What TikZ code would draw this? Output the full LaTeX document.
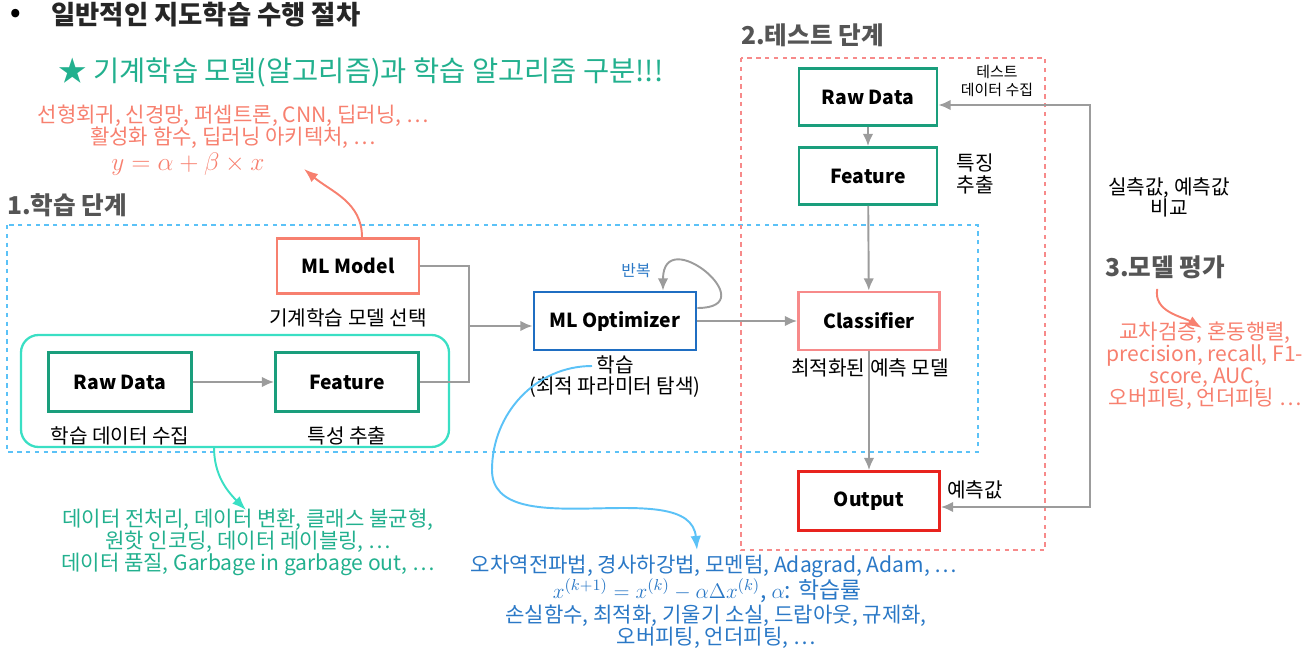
\documentclass[tikz,border=0pt]{standalone}
\usepackage{fontspec}
\setmainfont{Noto Sans CJK KR}
\usepackage{amsmath}
\usepackage{xcolor}
\usetikzlibrary{arrows.meta,positioning}
\definecolor{tealBox}{HTML}{1A9E7C}
\definecolor{aquaFrame}{HTML}{3ADFC4}
\definecolor{salmonRed}{HTML}{F7806F}
\definecolor{brightRed}{HTML}{E8231E}
\definecolor{paleRed}{HTML}{F78A8A}
\definecolor{optBlue}{HTML}{1F6EC2}
\definecolor{skyBlue}{HTML}{5BC2F7}
\definecolor{noteBlue}{HTML}{2A78C6}
\definecolor{noteTeal}{HTML}{22B08E}
\definecolor{headGray}{HTML}{555555}
\definecolor{lineGray}{HTML}{9C9C9C}
\newcommand{\tightlines}{\lineskiplimit=-20pt\relax}

\tikzset{
	box/.style={draw, line width=1.6pt, fill=white, inner sep=0pt, font=\fontsize{11}{13}\selectfont\bfseries},
	lbl/.style={inner sep=0pt, align=center, font={\fontsize{11.5}{13}\selectfont\tightlines}},
	note/.style={inner sep=0pt, align=center, font={\fontsize{12}{12.5}\selectfont\tightlines}},
	stage/.style={inner sep=0pt, anchor=west, text=headGray, font=\fontsize{14}{16}\selectfont\bfseries},
	flow/.style={-{Latex[length=7pt,width=6pt]}, draw=lineGray, line width=1.1pt},
	hint/.style={-{Latex[length=8pt,width=6pt]}, line width=1.1pt},
	frameLine/.style={line width=1.3pt, dash pattern=on 2.5pt off 2.5pt},
}

\begin{document}
\begin{tikzpicture}[x=0.02cm, y=-0.02cm]
	\useasboundingbox (0,0) rectangle (1307,648);
	
	% 제목
	\node[inner sep=0pt, font=\fontsize{15}{17}\selectfont\bfseries] (dot) at (16,15) {•};
	\node[inner sep=0pt, anchor=west, text=black!85, font=\fontsize{15}{17}\selectfont\bfseries] (title) at (51,15) {일반적인 지도학습 수행 절차};
	\node[inner sep=0pt, text=noteTeal, font=\fontsize{16.2}{18}\selectfont] (remark) at (361,72) {★ 기계학습 모델(알고리즘)과 학습 알고리즘 구분!!!};
	
	% 영역
	\draw[frameLine, skyBlue] (7,225) rectangle (978,452);
	\draw[frameLine, paleRed] (741,58) rectangle (1045,550);
	\draw[aquaFrame, line width=1.3pt, rounded corners=10pt] (21,335) rectangle (449,447);
	\coordinate (aquaBottom) at (214,447);
	
	\node[stage] (stageA) at (7,205) {1.학습 단계};
	\node[stage] (stageB) at (741,35) {2.테스트 단계};
	\node[stage] (stageC) at (1105,267) {3.모델 평가};
	
	% 학습 단계
	\node[box, draw=tealBox, minimum width=2.86cm, minimum height=1.18cm] (rawA) at (120,382) {Raw Data};
	\node[box, draw=tealBox, minimum width=2.86cm, minimum height=1.18cm] (featA) at (347,382) {Feature};
	\node[box, draw=salmonRed, minimum width=2.84cm, minimum height=1.1cm] (model) at (348,266) {ML Model};
	\node[box, draw=optBlue, minimum width=3.24cm, minimum height=1.16cm] (opt) at (615,321) {ML Optimizer};
	
	\node[lbl, below=0.26cm of rawA] (rawALbl) {학습 데이터 수집};
	\node[lbl, below=0.26cm of featA] (featALbl) {특성 추출};
	\node[lbl, below=0.26cm of model] (modelLbl) {기계학습 모델 선택};
	\node[lbl, font={\fontsize{11.5}{12}\selectfont\tightlines}] (optLbl) at (615,377) {학습\\(최적 파라미터 탐색)};
	\node[lbl, text=noteBlue, font=\fontsize{9}{10}\selectfont] (repeatLbl) at (636,271) {반복};
	
	\coordinate (join) at (469,326);
	\draw[flow] (rawA) -- (featA);
	\draw[flow] (model.east) -| (join) -- (opt.west |- join);
	\draw[draw=lineGray, line width=1.1pt] (featA.east) -| (join);
	\draw[flow] ([yshift=0.26cm]opt.east) to[out=0, in=90, looseness=4.6] ([xshift=0.96cm]opt.north);
	
	% 테스트 단계
	\node[box, draw=tealBox, minimum width=2.76cm, minimum height=1.14cm] (rawT) at (868,97) {Raw Data};
	\node[box, draw=tealBox, minimum width=2.76cm, minimum height=1.14cm] (featT) at (868,176) {Feature};
	\node[box, draw=paleRed, minimum width=2.82cm, minimum height=1.16cm] (clf) at (869,321) {Classifier};
	\node[box, draw=brightRed, minimum width=2.82cm, minimum height=1.18cm] (out) at (869,501) {Output};
	
	\node[lbl, font={\fontsize{8.5}{10.2}\selectfont\tightlines}] (rawTLbl) at (997,81) {테스트\\데이터 수집};
	\node[lbl, font={\fontsize{11.5}{12.5}\selectfont\tightlines}] (featTLbl) at (975,174) {특징\\추출};
	\node[lbl] (clfLbl) at (870,368) {최적화된 예측 모델};
	\node[lbl] (outLbl) at (975,490) {예측값};
	\node[lbl, font={\fontsize{11.5}{12}\selectfont\tightlines}] (cmpLbl) at (1169,197) {실측값, 예측값\\비교};
	
	\draw[flow] (opt) -- (clf);
	\draw[flow] (rawT) -- (featT);
	\draw[flow] (featT) -- (clf);
	\draw[flow] (clf) -- (out);
	
	\coordinate (backTop) at (1090,105);
	\coordinate (backBot) at (1090,507);
	\draw[flow, {Latex[length=7pt,width=6pt]}-{Latex[length=7pt,width=6pt]}] (rawT.east |- backTop) -- (backTop) -- (backBot) -- (out.east |- backBot);
	
	% 설명
	\node[note, text=salmonRed] (modelNote) at (233,127) {선형회귀, 신경망, 퍼셉트론, CNN, 딥러닝, …\\활성화 함수, 딥러닝 아키텍처, …};
	\node[inner sep=0pt, text=salmonRed, font=\fontsize{14}{16}\selectfont] (modelEq) at (188,164) {$y=\alpha+\beta\times x$};
	\coordinate (modelTip) at (304,169);
	\draw[hint, salmonRed] ([xshift=0.28cm]model.north) to[out=90, in=-40] (modelTip);
	
	\node[note, text=noteTeal] (dataNote) at (248,542) {데이터 전처리, 데이터 변환, 클래스 불균형,\\원핫 인코딩, 데이터 레이블링, …\\데이터 품질, Garbage in garbage out, …};
	\coordinate (dataTip) at (246,510);
	\draw[hint, aquaFrame] (aquaBottom) to[out=-90, in=135] (dataTip);
	
	\node[note, text=noteBlue] (optNote) at (714,566) {오차역전파법, 경사하강법, 모멘텀, Adagrad, Adam, …};
	\node[inner sep=0pt, text=noteBlue, font=\fontsize{13}{15}\selectfont] (optEq) at (707,591) {$x^{(k+1)}=x^{(k)}-\alpha\Delta x^{(k)}$, $\alpha$: 학습률};
	\node[note, text=noteBlue] (optNote2) at (716,627) {손실함수, 최적화, 기울기 소실, 드랍아웃, 규제화,\\오버피팅, 언더피팅, …};
	\coordinate (optStart) at (592,366);
	\coordinate (optBend) at (492,470);
	\coordinate (optTip) at (697,550);
	\draw[hint, skyBlue] (optStart) to[out=180, in=90] (optBend) to[out=-90, in=95, looseness=0.9] (optTip);
	
	\node[note, text=salmonRed] (evalNote) at (1205,366) {교차검증, 혼동행렬,\\precision, recall, F1-\\score, AUC,\\오버피팅, 언더피팅 …};
	\coordinate (evalTip) at (1202,328);
	\draw[hint, salmonRed] ([xshift=-0.16cm, yshift=-0.2cm]stageC.south) to[out=-100, in=150] (evalTip);
\end{tikzpicture}
\end{document}
